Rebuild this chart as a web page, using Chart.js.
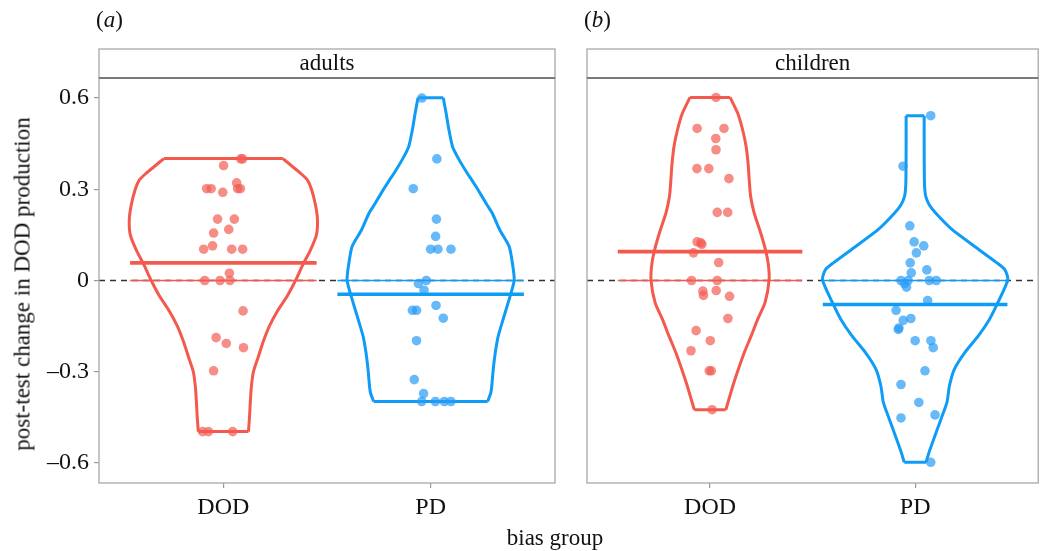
<!DOCTYPE html>
<html><head><meta charset="utf-8">
<script src="https://cdn.jsdelivr.net/npm/chart.js@4.4.1/dist/chart.umd.min.js"></script>
<style>
body{margin:0;background:#fff;}
#wrap{position:relative;width:1043px;height:551px;font-family:'Liberation Serif',serif;color:#111;overflow:hidden;}
canvas{position:absolute;top:0;}
.lbl{position:absolute;font-size:23px;white-space:nowrap;line-height:1;}
</style></head><body>
<div id="wrap">
<canvas id="cA" width="570" height="551" style="left:0"></canvas>
<canvas id="cB" width="473" height="551" style="left:570px"></canvas>
<div class="lbl" style="left:96px;top:8px">(<i>a</i>)</div>
<div class="lbl" style="left:584px;top:8px">(<i>b</i>)</div>
<div class="lbl" style="left:22px;top:284px;transform:translate(-50%,-50%) rotate(-90deg);">post-test change in DOD production</div>
<div class="lbl" style="left:555px;top:537px;transform:translate(-50%,-50%);">bias group</div>
</div>
<script>
// ---------- data ----------
const panelNames = ['adults', 'children'];
const categories = ['DOD', 'PD'];
const yTickValues = [-0.6, -0.3, 0, 0.3, 0.6];
const xTickValues = [1, 2];

// adults, DOD (x = category position incl. jitter)
const adultsDodX = [1.084,1.093,1.001,1.064,0.919,0.941,0.997,1.069,1.082,0.972,1.053,1.026,0.953,0.948,0.905,1.040,1.093,1.029,0.910,0.984,1.032,1.095,0.965,1.014,1.097,0.953,0.900,0.928,1.045];
const adultsDodY = [0.4,0.4,0.378,0.321,0.302,0.302,0.29,0.302,0.302,0.202,0.202,0.168,0.156,0.114,0.103,0.103,0.103,0.024,0,0,0,-0.1,-0.188,-0.207,-0.221,-0.297,-0.497,-0.497,-0.497];
// adults, PD
const adultsPdX = [1.958,2.030,1.916,2.028,2.024,2.0,2.035,2.098,1.979,1.941,1.968,2.026,1.912,1.932,2.061,1.932,1.921,1.966,1.957,2.023,2.066,2.098];
const adultsPdY = [0.6,0.4,0.302,0.202,0.145,0.103,0.103,0.103,0,-0.01,-0.032,-0.082,-0.098,-0.098,-0.124,-0.198,-0.326,-0.372,-0.398,-0.398,-0.398,-0.398];
// children, DOD
const childrenDodX = [1.029,0.937,1.068,1.028,1.029,0.936,0.994,1.092,1.035,1.086,0.937,0.955,0.960,0.919,1.042,0.910,1.035,0.965,0.968,1.030,1.095,1.087,0.932,1.001,0.907,0.996,1.006,1.010];
const childrenDodY = [0.602,0.5,0.5,0.467,0.43,0.368,0.368,0.335,0.224,0.224,0.127,0.124,0.119,0.091,0.059,0,0,-0.035,-0.049,-0.033,-0.052,-0.125,-0.165,-0.198,-0.231,-0.297,-0.297,-0.425];
// children, PD
const childrenPdX = [2.076,1.941,1.974,1.995,2.042,2.006,1.976,1.981,2.057,1.931,1.966,2.069,2.103,1.948,1.958,2.061,1.907,1.979,1.942,1.921,1.918,2.0,2.077,2.088,2.048,1.931,2.018,1.931,2.097,2.076];
const childrenPdY = [0.542,0.376,0.18,0.127,0.114,0.091,0.058,0.025,0.035,0,0,0,0,-0.01,-0.022,-0.066,-0.098,-0.125,-0.131,-0.156,-0.161,-0.198,-0.198,-0.221,-0.297,-0.342,-0.401,-0.452,-0.442,-0.598];

// group means [DOD, PD]
const adultsMeans = [0.058, -0.045];
const childrenMeans = [0.095, -0.079];

// violin density profiles: levels (bottom -> top) and half widths (category units)
const adultsDodViolinLevels = [-0.497,-0.45,-0.40,-0.35,-0.30,-0.25,-0.20,-0.15,-0.10,-0.05,0,0.05,0.10,0.15,0.20,0.25,0.30,0.33,0.353,0.375,0.401];
const adultsDodViolinHalf   = [0.121,0.126,0.130,0.135,0.145,0.169,0.193,0.222,0.261,0.309,0.348,0.382,0.420,0.449,0.454,0.444,0.425,0.406,0.372,0.333,0.287];
const adultsPdViolinLevels  = [-0.398,-0.37,-0.347,-0.292,-0.237,-0.183,-0.12,-0.073,0,0.05,0.112,0.167,0.222,0.25,0.30,0.331,0.35,0.40,0.44,0.50,0.549,0.601];
const adultsPdViolinHalf    = [0.275,0.290,0.295,0.302,0.312,0.326,0.353,0.374,0.403,0.396,0.379,0.333,0.297,0.271,0.227,0.198,0.179,0.135,0.106,0.087,0.075,0.061];
const childrenDodViolinLevels = [-0.425,-0.347,-0.292,-0.237,-0.183,-0.128,-0.073,0.003,0.058,0.112,0.167,0.222,0.276,0.331,0.38,0.44,0.495,0.55,0.602];
const childrenDodViolinHalf   = [0.077,0.111,0.138,0.167,0.200,0.232,0.268,0.288,0.283,0.266,0.242,0.215,0.198,0.191,0.186,0.176,0.159,0.135,0.098];
const childrenPdViolinLevels  = [-0.598,-0.565,-0.51,-0.456,-0.401,-0.347,-0.292,-0.237,-0.183,-0.128,-0.073,0.003,0.036,0.058,0.112,0.167,0.222,0.25,0.276,0.30,0.331,0.44,0.542];
const childrenPdViolinHalf    = [0.053,0.068,0.097,0.126,0.155,0.167,0.191,0.242,0.307,0.362,0.403,0.452,0.437,0.399,0.290,0.181,0.100,0.068,0.052,0.047,0.045,0.044,0.044];

// ---------- styles ----------
const lineColors = ['#F4594D', '#0E9CF6'];
const pointColors = ['rgba(242,92,82,0.7)', 'rgba(40,155,245,0.7)'];
const fontFamily = "'Liberation Serif', 'Times New Roman', serif";

function framePlugin(label) {
  return {
    id: 'frame' + label,
    afterDraw(chart) {
      const { ctx, chartArea: a } = chart;
      ctx.save();
      ctx.strokeStyle = '#a8a8a8';
      ctx.lineWidth = 1.3;
      ctx.strokeRect(a.left, a.top, a.right - a.left, a.bottom - a.top);
      ctx.strokeRect(a.left, 49, a.right - a.left, a.top - 49);
      ctx.strokeStyle = '#7a7a7a';
      ctx.lineWidth = 2.2;
      ctx.beginPath(); ctx.moveTo(a.left, a.top); ctx.lineTo(a.right, a.top); ctx.stroke();
      ctx.fillStyle = '#111';
      ctx.font = "23px " + fontFamily;
      ctx.textAlign = 'center';
      ctx.textBaseline = 'middle';
      ctx.fillText(label, (a.left + a.right) / 2, 64);
      ctx.restore();
    }
  };
}

function lineDs(data, color, width, order, extra) {
  return Object.assign({ data, showLine: true, borderColor: color, backgroundColor: color,
    borderWidth: width, pointRadius: 0, pointHoverRadius: 0, fill: false, order }, extra || {});
}

function buildPanel(canvasId, label, xs, ys, means, levels, halves, showY, yWidth, rightPad) {
  const datasets = [];
  datasets.push(lineDs([{ x: 0.4, y: 0 }, { x: 2.6, y: 0 }], '#333', 1.3, 10, { borderDash: [6, 5] }));
  for (let g = 0; g < 2; g++) {
    const cat = g + 1;
    const lv = levels[g], hw = halves[g], n = lv.length;
    const col = lineColors[g];
    datasets.push(lineDs(lv.map((y, i) => ({ x: cat - hw[i], y })), col, 3, 6, { tension: 0.22 }));
    datasets.push(lineDs(lv.map((y, i) => ({ x: cat + hw[i], y })), col, 3, 6, { tension: 0.22 }));
    datasets.push(lineDs([{ x: cat - hw[0], y: lv[0] }, { x: cat + hw[0], y: lv[0] }], col, 3, 6));
    datasets.push(lineDs([{ x: cat - hw[n - 1], y: lv[n - 1] }, { x: cat + hw[n - 1], y: lv[n - 1] }], col, 3, 6));
    datasets.push(lineDs([{ x: cat - 0.45, y: 0 }, { x: cat + 0.45, y: 0 }], col, 1.4, 5));
    datasets.push({ data: xs[g].map((x, i) => ({ x, y: ys[g][i] })), pointRadius: 4.8, pointHoverRadius: 4.8,
      pointBackgroundColor: pointColors[g], pointBorderWidth: 0, showLine: false, order: 2 });
    datasets.push(lineDs([{ x: cat - 0.45, y: means[g] }, { x: cat + 0.45, y: means[g] }], col, 3.6, 1));
  }
  new Chart(document.getElementById(canvasId), {
    type: 'scatter',
    data: { datasets },
    options: {
      responsive: false, animation: false, devicePixelRatio: 1,
      layout: { padding: { top: 78, right: rightPad, left: 0, bottom: 0 } },
      plugins: { legend: { display: false }, tooltip: { enabled: false } },
      scales: {
        x: {
          type: 'linear', min: 0.4, max: 2.6,
          afterBuildTicks: s => { s.ticks = xTickValues.map(v => ({ value: v })); },
          afterFit: s => { s.height = 68; },
          grid: { display: true, drawOnChartArea: false, drawTicks: true, tickLength: 5, color: '#999', lineWidth: 1.2 },
          border: { display: false },
          ticks: { padding: 5, color: '#111', maxRotation: 0, autoSkip: false,
            font: { family: fontFamily, size: 24 },
            callback: v => categories[Math.round(v) - 1] }
        },
        y: {
          type: 'linear', min: -0.666, max: 0.666,
          afterBuildTicks: s => { s.ticks = yTickValues.map(v => ({ value: v })); },
          afterFit: s => { s.width = yWidth; },
          grid: { display: showY, drawOnChartArea: false, drawTicks: showY, tickLength: 5, color: '#999', lineWidth: 1.2 },
          border: { display: false },
          ticks: { display: showY, padding: 5, color: '#111',
            font: { family: fontFamily, size: 24 },
            callback: v => v === 0 ? '0' : (v < 0 ? '\u2013' + Math.abs(v).toFixed(1) : v.toFixed(1)) }
        }
      }
    },
    plugins: [framePlugin(label)]
  });
}

buildPanel('cA', panelNames[0], [adultsDodX, adultsPdX], [adultsDodY, adultsPdY], adultsMeans,
  [adultsDodViolinLevels, adultsPdViolinLevels], [adultsDodViolinHalf, adultsPdViolinHalf], true, 99, 15);
buildPanel('cB', panelNames[1], [childrenDodX, childrenPdX], [childrenDodY, childrenPdY], childrenMeans,
  [childrenDodViolinLevels, childrenPdViolinLevels], [childrenDodViolinHalf, childrenPdViolinHalf], false, 17, 2);
</script>
</body></html>
